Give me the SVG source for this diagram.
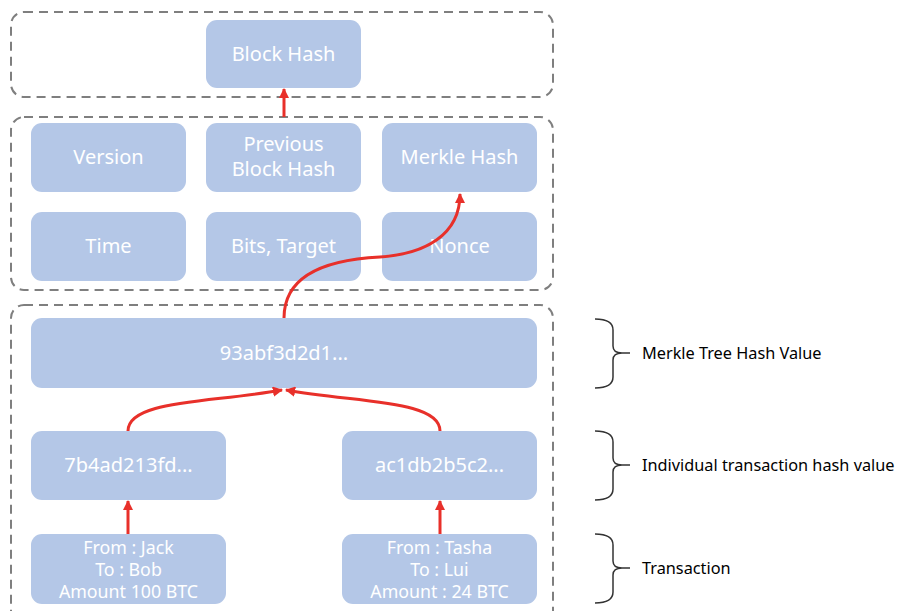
<svg xmlns="http://www.w3.org/2000/svg" width="898" height="611" viewBox="0 0 898 611">
  <defs>
    <marker id="arrow" viewBox="0 0 10 10" refX="9" refY="5" markerWidth="3.4" markerHeight="3.4" markerUnits="strokeWidth" orient="auto">
      <path d="M0,0 L10,5 L0,10 z" fill="#e8302a"/>
    </marker>
    <style>
      .group { fill: none; stroke: #7f7f7f; stroke-width: 2; stroke-dasharray: 9 6; }
      .node rect { fill: #b4c7e7; }
      .node text { fill: #ffffff; font-family: "Noto Sans", "Open Sans", sans-serif; font-size: 20px; text-anchor: middle; }
      .node text.small { font-size: 17.8px; }
      .conn { fill: none; stroke: #e8302a; stroke-width: 3; marker-end: url(#arrow); }
      .brace { fill: none; stroke: #333333; stroke-width: 1.5; }
      .label { fill: #000000; font-family: "Noto Sans", "Open Sans", sans-serif; font-size: 16.3px; }
    </style>
  </defs>
  <rect width="898" height="611" fill="#ffffff"/>

  <!-- dashed grouping frames -->
  <rect class="group" x="11" y="12" width="542" height="85" rx="13"/>
  <rect class="group" x="11" y="117" width="542" height="173" rx="13"/>
  <rect class="group" x="11" y="305" width="542" height="320" rx="13"/>

  <!-- block hash -->
  <g id="block-hash" class="node">
    <rect x="206" y="20" width="155" height="68" rx="11"/>
    <text x="283.5" y="61">Block Hash</text>
  </g>

  <!-- block header fields -->
  <g id="version" class="node">
    <rect x="31" y="123" width="155" height="69" rx="11"/>
    <text x="108.5" y="164">Version</text>
  </g>
  <g id="previous-block-hash" class="node">
    <rect x="206" y="123" width="155" height="69" rx="11"/>
    <text x="283.5" y="151">Previous</text>
    <text x="283.5" y="176">Block Hash</text>
  </g>
  <g id="merkle-hash" class="node">
    <rect x="382" y="123" width="155" height="69" rx="11"/>
    <text x="459.5" y="164">Merkle Hash</text>
  </g>
  <g id="time" class="node">
    <rect x="31" y="212" width="155" height="69" rx="11"/>
    <text x="108.5" y="253">Time</text>
  </g>
  <g id="bits-target" class="node">
    <rect x="206" y="212" width="155" height="69" rx="11"/>
    <text x="283.5" y="253">Bits, Target</text>
  </g>
  <g id="nonce" class="node">
    <rect x="382" y="212" width="155" height="69" rx="11"/>
    <text x="459.5" y="253">Nonce</text>
  </g>

  <!-- merkle tree -->
  <g id="merkle-root" class="node">
    <rect x="31" y="318" width="506" height="70" rx="11"/>
    <text x="284" y="360">93abf3d2d1...</text>
  </g>
  <g id="tx-hash-1" class="node">
    <rect x="31" y="431" width="195" height="69" rx="11"/>
    <text x="128.5" y="472">7b4ad213fd...</text>
  </g>
  <g id="tx-hash-2" class="node">
    <rect x="342" y="431" width="195" height="69" rx="11"/>
    <text x="439.5" y="472">ac1db2b5c2...</text>
  </g>
  <g id="tx-1" class="node">
    <rect x="31" y="534" width="195" height="70" rx="11"/>
    <text class="small" x="128.5" y="554">From : Jack</text>
    <text class="small" x="128.5" y="576">To : Bob</text>
    <text class="small" x="128.5" y="598">Amount 100 BTC</text>
  </g>
  <g id="tx-2" class="node">
    <rect x="342" y="534" width="195" height="70" rx="11"/>
    <text class="small" x="439.5" y="554">From : Tasha</text>
    <text class="small" x="439.5" y="576">To : Lui</text>
    <text class="small" x="439.5" y="598">Amount : 24 BTC</text>
  </g>

  <!-- connectors -->
  <g id="connectors">
    <path class="conn" d="M284,117 L284,89"/>
    <path class="conn" d="M284,318 C284,278 320,260 380,257 C425,254 460,235 460,194"/>
    <path class="conn" d="M128,431 C128,400 210,403 282,390"/>
    <path class="conn" d="M440,431 C440,400 358,403 286,390"/>
    <path class="conn" d="M128,534 L128,501"/>
    <path class="conn" d="M440,534 L440,501"/>
  </g>

  <!-- level annotations -->
  <g id="label-root">
    <path class="brace" d="M595,319 Q613,319 613,330 L613,346 Q613,353 622,353 L630,353 M622,353 Q613,353 613,360 L613,377 Q613,388 595,388"/>
    <text class="label" x="642" y="359">Merkle Tree Hash Value</text>
  </g>
  <g id="label-tx-hash">
    <path class="brace" d="M595,431 Q613,431 613,442 L613,458 Q613,465 622,465 L630,465 M622,465 Q613,465 613,472 L613,489 Q613,500 595,500"/>
    <text class="label" x="642" y="471">Individual transaction hash value</text>
  </g>
  <g id="label-tx">
    <path class="brace" d="M595,534 Q613,534 613,545 L613,561 Q613,568 622,568 L630,568 M622,568 Q613,568 613,575 L613,592 Q613,603 595,603"/>
    <text class="label" x="642" y="574">Transaction</text>
  </g>
</svg>
